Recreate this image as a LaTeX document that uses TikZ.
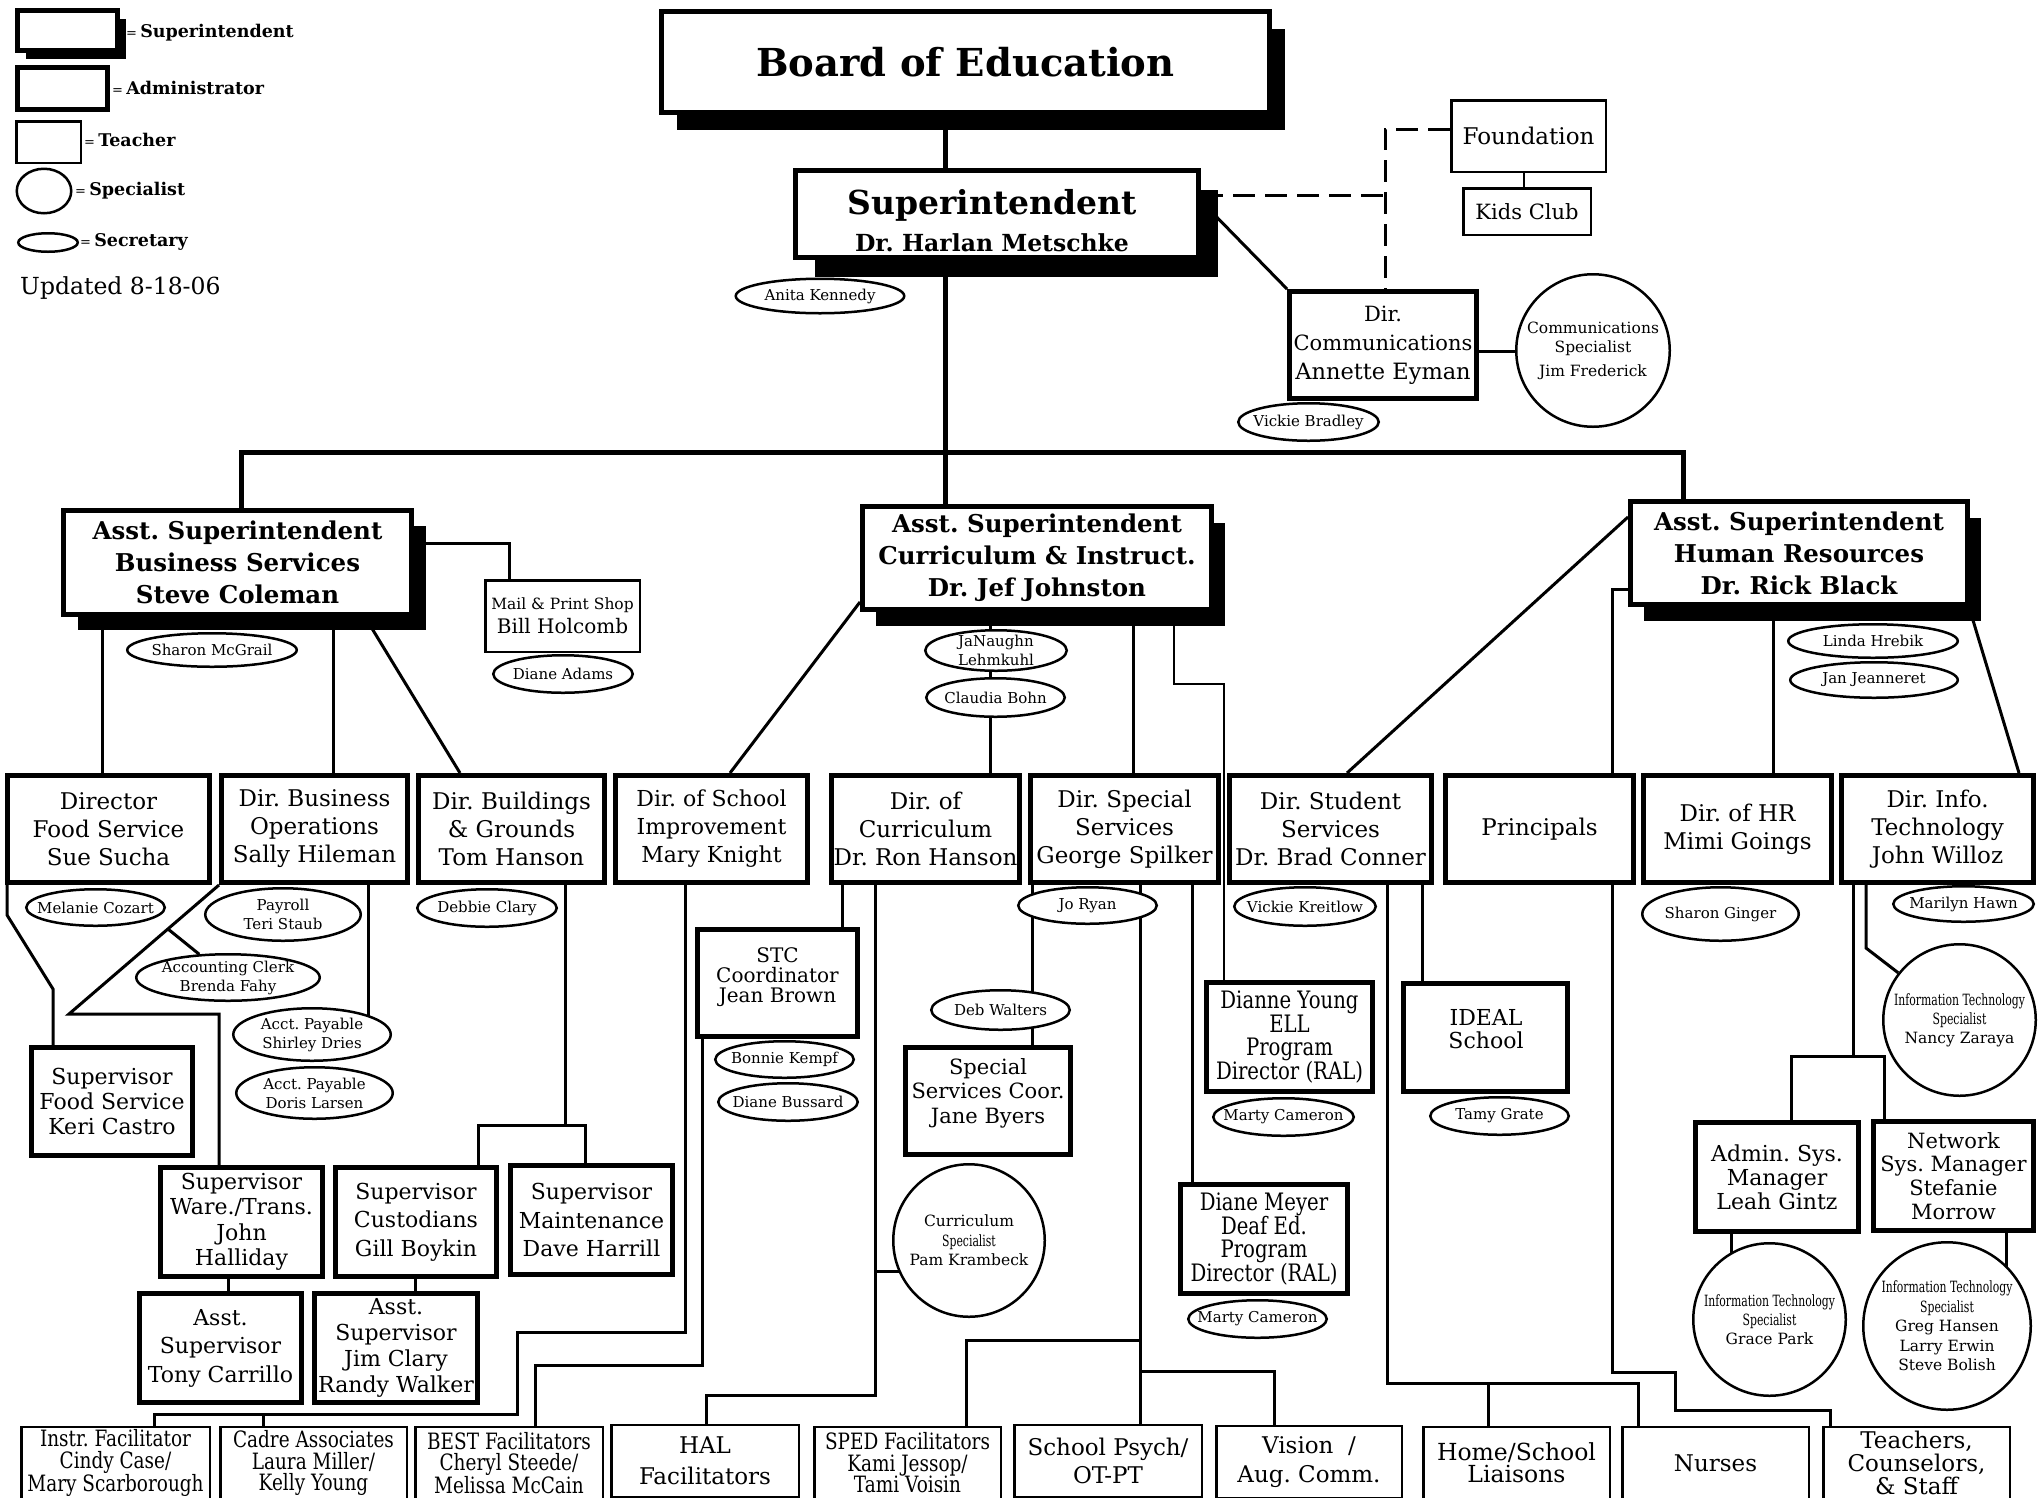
\documentclass[tikz,border=0pt]{standalone}
\usepackage{fontspec}
\setmainfont{DejaVu Serif}
\newfontfamily\cnd{DejaVu Serif}[FakeStretch=0.82]
\newfontfamily\xcnd{DejaVu Serif}[FakeStretch=0.7]
\usetikzlibrary{shapes.geometric,shadows,backgrounds}
\newcommand\fsz[2]{\fontsize{#1}{#2}\selectfont}
\frenchspacing
\tikzset{
  sz/.style 2 args={minimum width=#1pt, minimum height=#2pt},
  sh/.style 2 args={drop shadow={shadow xshift=#1pt, shadow yshift=-#2pt, opacity=1, fill=black}},
  supbox/.style={draw, line width=5pt, fill=white, inner sep=0pt, align=center, font=\bfseries\fsz{24.5}{32}},
  admbox/.style={draw, line width=5pt, fill=white, inner sep=0pt, align=center, font=\fsz{23}{28}},
  tchbox/.style={draw, line width=2.5pt, fill=white, inner sep=0pt, align=center, font=\fsz{23}{23}},
  oval/.style={ellipse, draw, line width=2.5pt, fill=white, inner sep=0pt},
  st/.style={align=center, inner sep=0pt, font=\fsz{15}{19}},
  tx/.style={align=center, inner sep=0pt},
  lk/.style={line width=3pt},
  trunk/.style={line width=5pt},
  fine/.style={line width=1.5pt},
  dsh/.style={line width=3pt, dash pattern=on 22pt off 10pt},
}
\begin{document}
\begin{tikzpicture}[x=1pt, y=-1pt]
\useasboundingbox (0,0) rectangle (2039,1497);
\clip (0,0) rectangle (2039,1497);

% ---------- legend ----------
\node[supbox, sz={100}{40}, sh={8.5}{8.5}] (lgsup) at (67.5,30.5) {};
\node[tx, anchor=west] (lgsupT) at (126,33) {{\fsz{13}{13}=} {\bfseries\fsz{17.5}{17.5}Superintendent}};
\node[admbox, sz={90}{42}] (lgadm) at (62.5,88.5) {};
\node[tx, anchor=west] (lgadmT) at (112,88) {{\fsz{13}{13}=} {\bfseries\fsz{17.5}{17.5}Administrator}};
\node[tchbox, sz={64.5}{41.5}] (lgtch) at (48.5,142) {};
\node[tx, anchor=west] (lgtchT) at (84,140) {{\fsz{13}{13}=} {\bfseries\fsz{17.5}{17.5}Teacher}};
\node[oval, sz={54.5}{44.5}] (lgspec) at (44,191) {};
\node[tx, anchor=west] (lgspecT) at (75,191) {{\fsz{13}{13}=} {\bfseries\fsz{17.5}{17.5}Specialist}};
\node[oval, sz={59.5}{18.5}] (lgsec) at (48,242.5) {};
\node[tx, anchor=west] (lgsecT) at (80,242) {{\fsz{13}{13}=} {\bfseries\fsz{17.5}{17.5}Secretary}};
\node[tx, anchor=west, font=\fsz{23.5}{23.5}] (upd) at (20,288) {Updated 8-18-06};

% ---------- board and superintendent ----------
\node[supbox, sz={608}{101}, sh={15.5}{17.5}, font=\bfseries\fsz{38.5}{40}] (board) at (965.5,62) {Board of Education};
\node[supbox, sz={403}{87}, sh={19}{19.5}] (sup) at (997,214) {};
\node[tx, font=\bfseries\fsz{33}{33}] (supT) at (992,205) {Superintendent};
\node[tx, font=\bfseries\fsz{23.5}{23.5}] (supN) at (992,243) {Dr. Harlan Metschke};
\node[oval, sz={168.5}{34.5}] (anita) at (820,296) {};
\node[st] (anitaT) at (anita) {Anita Kennedy};

\node[tchbox, sz={154.5}{71.5}, font=\fsz{23}{23}] (found) at (1528.5,136) {Foundation};
\node[tchbox, sz={127.5}{46.5}, font=\fsz{21}{21}] (kids) at (1527,211.5) {Kids Club};
\node[admbox, sz={187}{107}, font=\fsz{21}{29}] (dircomm) at (1383,345) {Dir.\\Communications\\{\fsz{22.5}{29}Annette Eyman}};
\node[oval, sz={153.5}{152.5}] (commspec) at (1593,350.5) {};
\node[st, font=\fsz{15.5}{19}] (commspecT) at (commspec) {Communications\\Specialist\\[5pt]Jim Frederick};
\node[oval, sz={140.5}{37.5}] (vickieb) at (1308.5,422) {};
\node[st] (vickiebT) at (vickieb) {Vickie Bradley};

% ---------- assistant superintendents ----------
\node[supbox, sz={348}{104}, sh={14.5}{15.5}] (bs) at (237.5,562.5) {Asst. Superintendent\\Business Services\\Steve Coleman};
\node[oval, sz={169.5}{33.5}] (mcgrail) at (212,650) {};
\node[st] (mcgrailT) at (mcgrail) {Sharon McGrail};
\node[tchbox, sz={154.5}{71.5}, font=\fsz{20}{24}] (mail) at (562.5,616) {{\fsz{15.5}{18}Mail \& Print Shop}\\Bill Holcomb};
\node[oval, sz={139.5}{37.5}] (adams) at (563,674) {};
\node[st] (adamsT) at (adams) {Diane Adams};

\node[supbox, sz={349}{103}, sh={13.5}{16.5}] (ci) at (1037,558) {Asst. Superintendent\\Curriculum \& Instruct.\\Dr. Jef Johnston};
\node[oval, sz={141.5}{40.5}] (janaughn) at (996,650.5) {};
\node[st] (janaughnT) at (janaughn) {JaNaughn\\Lehmkuhl};
\node[oval, sz={138.5}{38.5}] (claudia) at (995.5,697.5) {};
\node[st] (claudiaT) at (claudia) {Claudia Bohn};

\node[supbox, sz={337}{103}, sh={13.5}{16.5}] (hr) at (1799,553) {Asst. Superintendent\\Human Resources\\Dr. Rick Black};
\node[oval, sz={169.5}{33.5}] (linda) at (1873,641) {};
\node[st] (lindaT) at (linda) {Linda Hrebik};
\node[oval, sz={167.5}{35.5}] (jan) at (1874,680) {};
\node[st] (janT) at (jan) {Jan Jeanneret};

% ---------- directors ----------
\node[admbox, sz={202}{107}] (dfood) at (108.5,829) {Director\\Food Service\\Sue Sucha};
\node[admbox, sz={186}{107}] (dbus) at (314.5,829) {Dir. Business\\Operations\\Sally Hileman};
\node[admbox, sz={186}{107}] (dbld) at (511.5,829) {Dir. Buildings\\\& Grounds\\Tom Hanson};
\node[admbox, sz={192}{107}, font=\fsz{22}{28}] (dsch) at (711.5,829) {Dir. of School\\Improvement\\Mary Knight};
\node[admbox, sz={188}{107}] (dcur) at (925.5,829) {Dir. of\\Curriculum\\Dr. Ron Hanson};
\node[admbox, sz={188}{107}] (dspe) at (1124.5,829) {Dir. Special\\Services\\George Spilker};
\node[admbox, sz={202}{107}] (dstu) at (1330.5,829) {Dir. Student\\Services\\Dr. Brad Conner};
\node[admbox, sz={188}{107}] (princ) at (1539.5,829) {Principals};
\node[admbox, sz={188}{107}] (dhr) at (1737.5,829) {Dir. of HR\\Mimi Goings};
\node[admbox, sz={192}{107}] (dit) at (1937.5,829) {Dir. Info.\\Technology\\John Willoz};

\node[oval, sz={138.5}{36.5}] (cozart) at (95.5,907.5) {};
\node[st] (cozartT) at (cozart) {Melanie Cozart};
\node[oval, sz={155.5}{52.5}] (payroll) at (283,914.5) {};
\node[st] (payrollT) at (payroll) {Payroll\\Teri Staub};
\node[oval, sz={139.5}{37.5}] (dclary) at (487,908) {};
\node[st] (dclaryT) at (dclary) {Debbie Clary};
\node[oval, sz={138.5}{36.5}] (joryan) at (1087.5,905.5) {};
\node[st] (joryanT) at (joryan) {Jo Ryan};
\node[oval, sz={141.5}{38.5}] (kreitlow) at (1305,906.5) {};
\node[st] (kreitlowT) at (kreitlow) {Vickie Kreitlow};
\node[oval, sz={156.5}{53.5}] (ginger) at (1720.5,914) {};
\node[st] (gingerT) at (ginger) {Sharon Ginger};
\node[oval, sz={140.5}{35.5}] (hawn) at (1963.5,904) {};
\node[st] (hawnT) at (hawn) {Marilyn Hawn};

% ---------- business services staff ----------
\node[admbox, sz={161}{108}, font=\fsz{22}{25}] (supfood) at (112,1101.5) {Supervisor\\Food Service\\Keri Castro};
\node[oval, sz={183.5}{46.5}] (acctclerk) at (228,977.5) {};
\node[st] (acctclerkT) at (acctclerk) {Accounting Clerk\\Brenda Fahy};
\node[oval, sz={157.5}{52.5}] (shirley) at (312,1034.5) {};
\node[st] (shirleyT) at (shirley) {Acct. Payable\\Shirley Dries};
\node[oval, sz={156.5}{51.5}] (doris) at (314.5,1093) {};
\node[st] (dorisT) at (doris) {Acct. Payable\\Doris Larsen};
\node[admbox, sz={162}{109}, font=\fsz{22}{25.5}] (supware) at (241.5,1222) {Supervisor\\Ware./Trans.\\John\\Halliday};
\node[admbox, sz={161}{109}, font=\fsz{22}{28.5}] (supcust) at (416,1222) {Supervisor\\Custodians\\Gill Boykin};
\node[admbox, sz={162}{109}, font=\fsz{22}{28.5}] (supmaint) at (591.5,1220) {Supervisor\\Maintenance\\Dave Harrill};
\node[admbox, sz={162}{109}, font=\fsz{22}{28.5}] (asstony) at (220.5,1348) {Asst.\\Supervisor\\Tony Carrillo};
\node[admbox, sz={163}{109}, font=\fsz{22}{26}] (asjim) at (396,1348) {Asst.\\Supervisor\\Jim Clary\\Randy Walker};

% ---------- curriculum and special services staff ----------
\node[admbox, sz={160}{107}] (stc) at (777.5,983) {};
\node[tx, font=\fsz{20}{20}] (stcT) at (777.5,977) {STC\\Coordinator\\Jean Brown};
\node[oval, sz={138.5}{36.5}] (kempf) at (784.5,1059.5) {};
\node[st] (kempfT) at (kempf) {Bonnie Kempf};
\node[oval, sz={139.5}{37.5}] (bussard) at (788,1102) {};
\node[st] (bussardT) at (bussard) {Diane Bussard};
\node[oval, sz={151.5}{152.5}] (currspec) at (969,1240.5) {};
\node[st, font=\fsz{15.5}{19.5}] (currspecT) at (currspec) {Curriculum\\{\xcnd Specialist}\\Pam Krambeck};
\node[oval, sz={138.5}{39.5}] (debw) at (1000.5,1010) {};
\node[st] (debwT) at (debw) {Deb Walters};
\node[admbox, sz={165}{107}] (jbyers) at (988,1101) {};
\node[tx, font=\fsz{21}{24.5}] (jbyersT) at (988,1093) {Special\\Services Coor.\\Jane Byers};
\node[admbox, sz={166}{109}, font=\cnd\fsz{24}{23.7}] (dyoung) at (1289.5,1037) {Dianne Young\\ELL\\Program\\Director (RAL)};
\node[oval, sz={140.5}{37.5}] (cam1) at (1283.5,1117) {};
\node[st] (cam1T) at (cam1) {Marty Cameron};
\node[admbox, sz={167}{109}, font=\cnd\fsz{24}{23.7}] (dmeyer) at (1264,1239) {Diane Meyer\\Deaf Ed.\\Program\\Director (RAL)};
\node[oval, sz={138.5}{37.5}] (cam2) at (1257.5,1319) {};
\node[st] (cam2T) at (cam2) {Marty Cameron};
\node[admbox, sz={164}{108}] (ideal) at (1485.5,1037.5) {};
\node[tx, font=\fsz{22}{23}] (idealT) at (1486,1029) {IDEAL\\School};
\node[oval, sz={138.5}{37.5}] (tamy) at (1499.5,1116) {};
\node[st] (tamyT) at (tamy) {Tamy Grate};

% ---------- information technology ----------
\node[oval, sz={152.5}{151.5}] (nancy) at (1959.5,1020) {};
\node[st, font=\fsz{15.5}{19}] (nancyT) at (nancy) {{\xcnd Information Technology}\\{\xcnd Specialist}\\Nancy Zaraya};
\node[admbox, sz={163}{109}, font=\fsz{22}{24}] (adminsys) at (1777,1177) {Admin. Sys.\\Manager\\Leah Gintz};
\node[admbox, sz={160}{109}, font=\fsz{21}{23.7}] (netsys) at (1953.5,1176) {Network\\Sys. Manager\\Stefanie\\Morrow};
\node[oval, sz={152.5}{152.5}] (grace) at (1769.5,1319.5) {};
\node[st, font=\fsz{15.5}{19}] (graceT) at (grace) {{\xcnd Information Technology}\\{\xcnd Specialist}\\Grace Park};
\node[oval, sz={167.5}{167.5}] (greg) at (1947,1326) {};
\node[st, font=\fsz{15.5}{19.5}] (gregT) at (greg) {{\xcnd Information Technology}\\{\xcnd Specialist}\\Greg Hansen\\Larry Erwin\\Steve Bolish};

% ---------- bottom row ----------
\node[tchbox, sz={188.5}{72.5}, font=\cnd\fsz{22.5}{21.5}] (instr) at (115.5,1463) {Instr. Facilitator\\Cindy Case/\\Mary Scarborough};
\node[tchbox, sz={186.5}{72.5}, font=\cnd\fsz{22.5}{21.5}] (cadre) at (313.5,1463) {Cadre Associates\\Laura Miller/\\Kelly Young};
\node[tchbox, sz={187.5}{72.5}, font=\cnd\fsz{22.5}{21.5}] (best) at (509,1463) {BEST Facilitators\\Cheryl Steede/\\Melissa McCain};
\node[tchbox, sz={187.5}{72.5}, font=\fsz{23}{31}] (hal) at (705,1461) {HAL\\Facilitators};
\node[tchbox, sz={186.5}{72.5}, font=\cnd\fsz{22.5}{21.5}] (sped) at (907.5,1463) {SPED Facilitators\\Kami Jessop/\\Tami Voisin};
\node[tchbox, sz={187.5}{72.5}, font=\fsz{23}{28}] (psych) at (1108,1461) {School Psych/\\OT-PT};
\node[tchbox, sz={185.5}{72.5}, font=\fsz{23}{29}] (vision) at (1309,1462) {Vision\ \ /\\Aug. Comm.};
\node[tchbox, sz={186.5}{72.5}, font=\fsz{23.5}{22}] (home) at (1516.5,1463) {Home/School\\Liaisons};
\node[tchbox, sz={186.5}{72.5}, font=\fsz{23}{23}] (nurses) at (1715.5,1463) {Nurses};
\node[tchbox, sz={186.5}{72.5}, font=\fsz{23}{23}] (teach) at (1916.5,1463) {Teachers,\\Counselors,\\\& Staff};

% ---------- connectors ----------
\begin{scope}[on background layer]
\fill[white] (0,0) rectangle (2039,1497);
\draw[trunk] (board.south -| 945,0) -- (sup.north -| 945,0);
\draw[trunk] (sup.south -| 945,0) -- (ci.north -| 945,0);
\draw[trunk] (bs.north -| 241,0) |- (1683,452) -- (hr.north -| 1683,0);
\draw[dsh] (sup.east |- 0,195) -- (1385,195);
\draw[dsh] (found.west |- 0,129) -| (dircomm.north -| 1385,0);
\draw[lk] (sup.east |- 0,201) -- (dircomm.north west);
\draw[line width=2.5pt] (found.south -| 1524,0) -- (kids.north -| 1524,0);
\draw[lk] (dircomm.east |- 0,351) -- (commspec.west |- 0,351);

\draw[lk] (bs.east |- 0,543) -| (mail.north -| 509,0);
\draw[lk] (bs.south -| 102,0) -- (dfood.north -| 102,0);
\draw[lk] (bs.south -| 333,0) -- (dbus.north -| 333,0);
\draw[lk] (bs.south -| 365,0) -- (dbld.north -| 460,0);

\draw[lk] (ci.west |- 0,602) -- (dsch.north -| 730,0);
\draw[lk] (ci.south -| 990,0) -- (dcur.north -| 990,0);
\draw[lk] (ci.south -| 1133,0) -- (dspe.north -| 1133,0);
\draw[fine] (ci.south -| 1174,0) -- (1174,684) -- (1224,684) -- (dyoung.north -| 1224,0);

\draw[lk] (hr.west |- 0,517) -- (dstu.north -| 1347,0);
\draw[lk] (hr.west |- 0,589) -| (princ.north -| 1612,0);
\draw[lk] (hr.south -| 1773,0) -- (dhr.north -| 1773,0);
\draw[lk] (hr.south -| 1969,0) -- (dit.north -| 2019,0);

\draw[lk] (dfood.south -| 7,0) -- (7,915) -- (53,989) -- (supfood.north -| 53,0);
\draw[lk] (dbus.south west) -- (69,1014) -- (219,1014) -- (supware.north -| 219,0);
\draw[lk] (168,929) -- (acctclerk);
\draw[lk] (dbus.south -| 368,0) -- (shirley -| 368,0);
\draw[lk] (dbld.south -| 565,0) -- (565,1125);
\draw[lk] (supcust.north -| 478,0) -- (478,1125) -- (585,1125) -- (supmaint.north -| 585,0);
\draw[lk] (supware.south -| 228,0) -- (asstony.north -| 228,0);
\draw[lk] (supcust.south -| 415,0) -- (asjim.north -| 415,0);

\draw[lk] (dsch.south -| 685,0) -- (685,1332) -- (517,1332) -- (517,1414) -- (154,1414) -- (instr.north -| 154,0);
\draw[lk] (263,1414) -- (cadre.north -| 263,0);
\draw[lk] (stc.south -| 702,0) -- (702,1365) -- (535,1365) -- (best.north -| 535,0);
\draw[lk] (dcur.south -| 842,0) -- (stc.north -| 842,0);
\draw[lk] (dcur.south -| 875,0) -- (875,1395) -- (706,1395) -- (hal.north -| 706,0);
\draw[lk] (875,1271) -- (currspec |- 0,1271);

\draw[lk] (dspe.south -| 1032,0) -- (jbyers.north -| 1032,0);
\draw[lk] (dspe.south -| 1140,0) -- (psych.north -| 1140,0);
\draw[lk] (1140,1340) -| (sped.north -| 966,0);
\draw[lk] (1140,1371) -| (vision.north -| 1274,0);
\draw[lk] (dspe.south -| 1192,0) -- (dmeyer.north -| 1192,0);

\draw[lk] (dstu.south -| 1387,0) |- (1638,1383) -- (nurses.north -| 1638,0);
\draw[lk] (1488,1383) -- (home.north -| 1488,0);
\draw[lk] (dstu.south -| 1422,0) -- (ideal.north -| 1422,0);
\draw[lk] (princ.south -| 1612,0) -- (1612,1372) -- (1675,1372) -- (1675,1410) -- (1830,1410) -- (teach.north -| 1830,0);

\draw[lk] (dit.south -| 1853,0) -- (1853,1056);
\draw[lk] (adminsys.north -| 1791,0) -- (1791,1056) -- (1884,1056) -- (netsys.north -| 1884,0);
\draw[lk] (dit.south -| 1866,0) -- (1866,948) -- (nancy);
\draw[lk] (adminsys.south -| 1731,0) -- (grace -| 1731,0);
\draw[lk] (netsys.south -| 2006,0) -- (greg -| 2006,0);
\end{scope}
\end{tikzpicture}
\end{document}
